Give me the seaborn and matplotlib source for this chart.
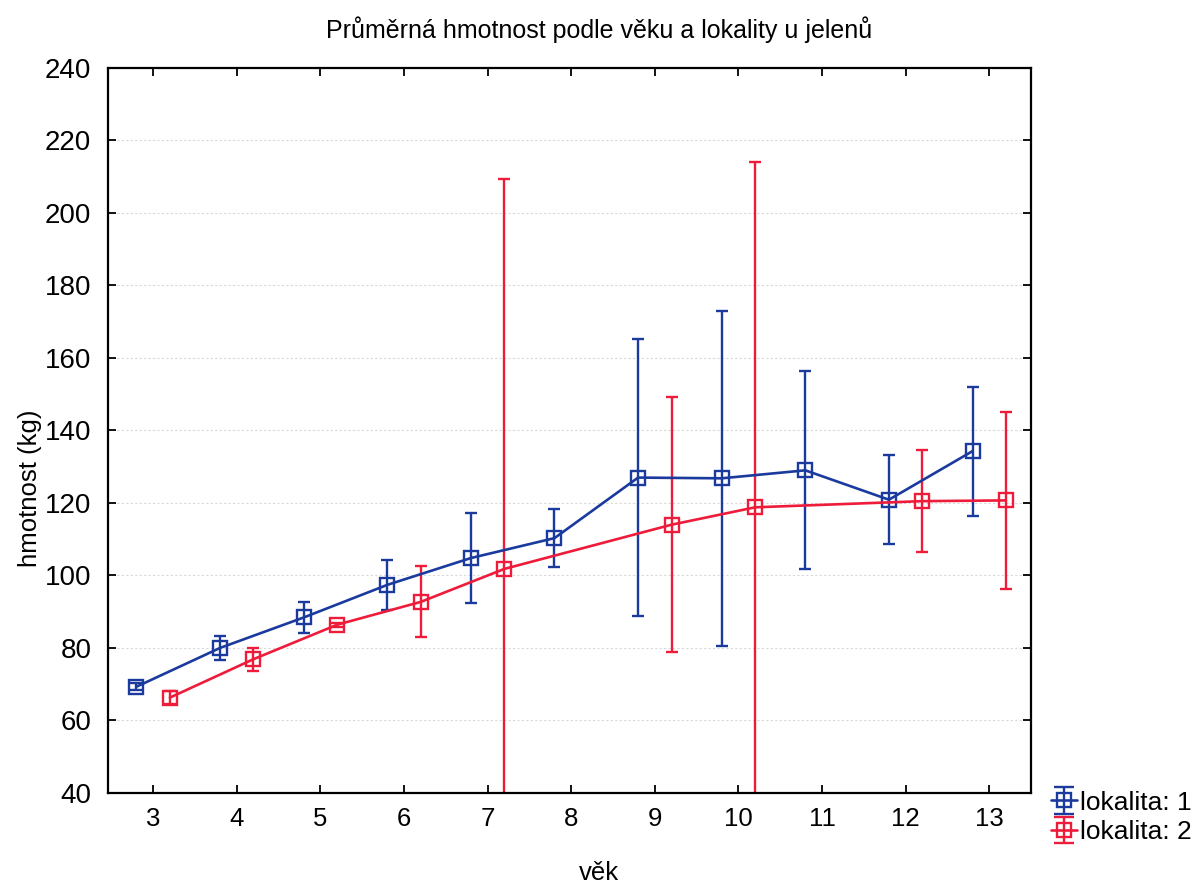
import numpy as np
import pandas as pd
import matplotlib
matplotlib.use("Agg")
import matplotlib.pyplot as plt
import seaborn as sns

# ---- data ----
ages = [3, 4, 5, 6, 7, 8, 9, 10, 11, 12, 13]
mean_lok1 = [69.3, 80.0, 88.4, 97.4, 104.8, 110.3, 127.0, 126.8, 129.0, 120.9, 134.3]
err_lok1 = [1.0, 3.2, 4.3, 6.8, 12.5, 8.0, 38.2, 46.2, 27.3, 12.2, 17.8]
mean_lok2 = [66.3, 76.9, 86.4, 92.7, 101.8, np.nan, 114.0, 118.8, np.nan, 120.5, 120.7]
err_lok2 = [1.7, 3.2, 0.5, 9.8, 107.6, np.nan, 35.2, 95.2, np.nan, 14.0, 24.5]
series_names = ["lokalita: 1", "lokalita: 2"]
colors = ["#1a3a9e", "#ee1c3a"]
yticks = [40, 60, 80, 100, 120, 140, 160, 180, 200, 220, 240]

sns.set_theme(style="white")
plt.rcParams["font.family"] = ["Liberation Sans", "DejaVu Sans"]
plt.rcParams["text.color"] = "black"
plt.rcParams["axes.labelcolor"] = "black"
plt.rcParams["xtick.color"] = "black"
plt.rcParams["ytick.color"] = "black"

fig = plt.figure(figsize=(11.92, 8.83), dpi=100)
ax = fig.add_axes([0.0906, 0.102, 0.7744, 0.821])

offsets = [-0.2, 0.2]
handles = []
for name, means, errs, col, off in zip(series_names, [mean_lok1, mean_lok2],
                                       [err_lok1, err_lok2], colors, offsets):
    df = pd.DataFrame({"x": np.array(ages) + off, "y": means, "e": errs}).dropna()
    sns.lineplot(data=df, x="x", y="y", ax=ax, color=col, lw=1.9, marker="s",
                 markersize=10, markerfacecolor="none", markeredgecolor=col,
                 markeredgewidth=1.7, legend=False, sort=True, zorder=3)
    ax.errorbar(df["x"], df["y"], yerr=df["e"], fmt="none", ecolor=col,
                elinewidth=1.7, capsize=4.5, capthick=1.7, zorder=2)
    h = ax.errorbar([np.nan], [np.nan], yerr=[1], fmt="s-", color=col, lw=1.9,
                    ms=10, mfc="none", mec=col, mew=1.7, elinewidth=1.7,
                    capsize=7, capthick=1.7, label=name)
    handles.append(h)

ax.set_xlim(2.46, 13.5)
ax.set_ylim(40, 240)
ax.set_xticks(ages)
ax.set_xticklabels([str(a) for a in ages], fontsize=18.5)
ax.set_yticks(yticks)
ax.set_yticklabels([str(v) for v in yticks], fontsize=20)
ax.yaxis.grid(True, color="#d8d8d8", linestyle=(0, (2, 2)), lw=0.8)
ax.xaxis.grid(False)
ax.tick_params(axis="both", direction="in", length=6, width=1.3, color="black",
               top=True, right=True, bottom=True, left=True, pad=10)
ax.tick_params(axis="y", pad=12)
for s in ax.spines.values():
    s.set_color("black")
    s.set_linewidth(1.6)

ax.set_xlabel("věk", fontsize=18.5, labelpad=22)
ax.xaxis.set_label_coords(0.532, -0.094)
ax.set_ylabel("hmotnost (kg)", fontsize=18.5, labelpad=12)
ax.yaxis.set_label_coords(-0.072, 0.42)
fig.text(0.503, 0.966, "Průměrná hmotnost podle věku a lokality u jelenů",
         fontsize=18, ha="center", va="center", color="black")

ax.legend(handles=handles, labels=series_names, loc="lower left",
          bbox_to_anchor=(1.01, -0.085), frameon=False, fontsize=19,
          handlelength=1.0, handletextpad=0.1, borderaxespad=0, labelspacing=0.2)

fig.savefig("out.png", dpi=100)
